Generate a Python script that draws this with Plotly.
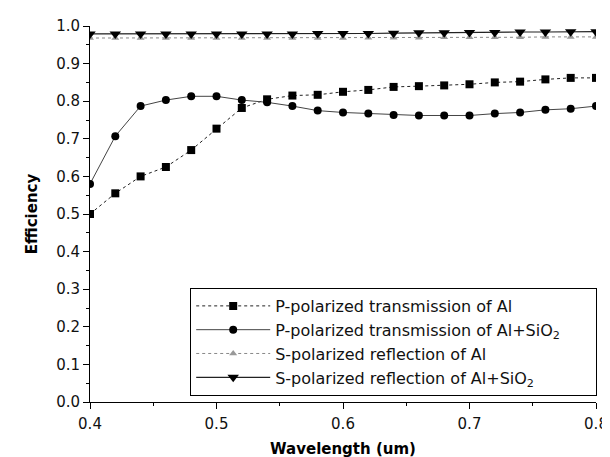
import plotly.graph_objects as go

wavelength = [0.40, 0.42, 0.44, 0.46, 0.48, 0.50, 0.52, 0.54, 0.56, 0.58, 0.60,
              0.62, 0.64, 0.66, 0.68, 0.70, 0.72, 0.74, 0.76, 0.78, 0.80]
p_al = [0.500, 0.555, 0.600, 0.625, 0.670, 0.727, 0.782, 0.805, 0.815, 0.817, 0.825,
        0.830, 0.838, 0.840, 0.842, 0.845, 0.850, 0.852, 0.858, 0.862, 0.862]
p_al_sio2 = [0.580, 0.707, 0.787, 0.803, 0.813, 0.813, 0.803, 0.797, 0.787, 0.775, 0.770,
             0.767, 0.763, 0.762, 0.762, 0.762, 0.767, 0.770, 0.777, 0.780, 0.787]
s_al = [0.968, 0.968, 0.968, 0.968, 0.968, 0.968, 0.968, 0.968, 0.968, 0.968, 0.968,
        0.969, 0.969, 0.969, 0.970, 0.970, 0.970, 0.970, 0.971, 0.971, 0.971]
s_al_sio2 = [0.979, 0.979, 0.979, 0.979, 0.979, 0.979, 0.979, 0.979, 0.979, 0.980, 0.980,
             0.980, 0.981, 0.982, 0.982, 0.983, 0.983, 0.984, 0.984, 0.985, 0.985]

names = ["P-polarized transmission of Al",
         "P-polarized transmission of Al+SiO<sub>2</sub>",
         "S-polarized reflection of Al",
         "S-polarized reflection of Al+SiO<sub>2</sub>"]

FONT = "DejaVu Sans"
PAD = "\u00a0" * 6  # right padding inside the legend box

fig = go.Figure()
fig.add_trace(go.Scatter(x=wavelength, y=p_al, name=names[0], mode="lines+markers",
                         line=dict(color="#222", width=1, dash="dot"),
                         marker=dict(symbol="square", size=8, color="black")))
fig.add_trace(go.Scatter(x=wavelength, y=p_al_sio2, name=names[1] + PAD, mode="lines+markers",
                         line=dict(color="#444", width=1),
                         marker=dict(symbol="circle", size=8, color="black")))
fig.add_trace(go.Scatter(x=wavelength, y=s_al, name=names[2], mode="lines+markers",
                         line=dict(color="#888", width=1, dash="dot"),
                         marker=dict(symbol="triangle-up", size=7, color="#999")))
fig.add_trace(go.Scatter(x=wavelength, y=s_al_sio2, name=names[3], mode="lines+markers",
                         line=dict(color="#222", width=1.2),
                         marker=dict(symbol="triangle-down", size=10, color="black")))

axis_common = dict(showline=True, linecolor="black", linewidth=1, ticks="outside",
                   ticklen=6, tickcolor="black", showgrid=False, zeroline=False,
                   automargin=False,
                   tickfont=dict(family=FONT, size=15, color="#111"),
                   minor=dict(ticks="outside", ticklen=3, tickcolor="black"))

fig.update_xaxes(range=[0.4, 0.8], dtick=0.1, tickformat=".1f",
                 ticklabelstandoff=2,
                 title=dict(text="<b>Wavelength (um)</b>", standoff=11,
                            font=dict(family=FONT, size=15, color="black")),
                 minor_dtick=0.05, **axis_common)
fig.update_yaxes(range=[0.0, 1.0], dtick=0.1, tickformat=".1f",
                 title=dict(text="<b>Efficiency</b>", standoff=14,
                            font=dict(family=FONT, size=15, color="black")),
                 minor_dtick=0.05, **axis_common)

fig.update_layout(
    width=610, height=457,
    margin=dict(l=82, r=22, t=18, b=63),
    plot_bgcolor="white", paper_bgcolor="white",
    showlegend=True,
    legend=dict(x=0.198, y=0.016, xanchor="left", yanchor="bottom",
                bordercolor="black", borderwidth=1, bgcolor="white",
                font=dict(family=FONT, size=16, color="#111"),
                tracegroupgap=0, itemwidth=74),
)

fig.write_html("out.html")
